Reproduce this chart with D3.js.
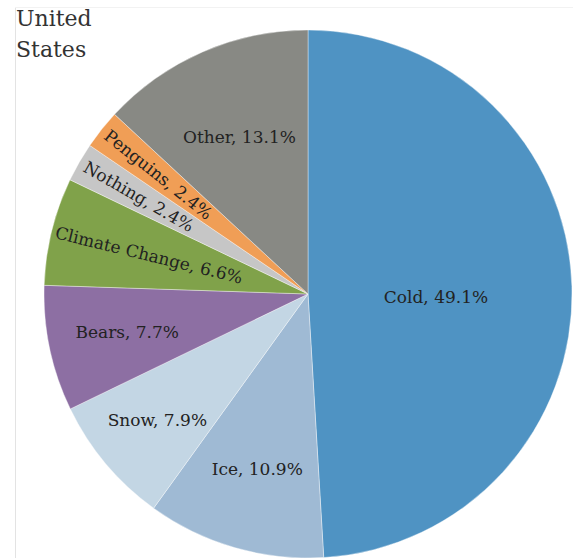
<!DOCTYPE html>
<html>
<head>
<meta charset="utf-8">
<script src="https://cdn.jsdelivr.net/npm/d3@7"></script>
<style>
  body { margin: 0; background: #fff; }
</style>
</head>
<body>
<div class="chart"></div>
<script>
// what americans think of when they hear "arctic"
const title = ["United", "States"]
const categories = ["Cold", "Ice", "Snow", "Bears", "Climate Change", "Nothing", "Penguins", "Other"]
const shares = [49.1, 10.9, 7.9, 7.7, 6.6, 2.4, 2.4, 13.1]
const colours = ["#4f93c3", "#9fbad4", "#c3d6e4", "#8d6fa3", "#80a24a", "#c6c6c6", "#f09e56", "#888984"]

const width = 573, height = 558
const cx = 308, cy = 294, radius = 264
const serif = "'DejaVu Serif', serif"

// label distance as a fraction of the radius; small slices get rotated text
const labelRadius = { "Cold": 0.485, "Ice": 0.69, "Snow": 0.745, "Bears": 0.70,
  "Climate Change": 0.62, "Nothing": 0.74, "Penguins": 0.725, "Other": 0.65 }
const labelNudge = { "Cold": 7 }
const rotated = ["Climate Change", "Nothing", "Penguins"]

const data = categories.map((c, i) => ({ name: c, value: shares[i], colour: colours[i] }))

const svg = d3.select(".chart").append("svg")
  .attr("width", width)
  .attr("height", height)

// faint frame lines
svg.append("line").attr("x1", 15.5).attr("x2", 15.5).attr("y1", 7).attr("y2", height)
  .attr("stroke", "#e3e3e3")
svg.append("line").attr("x1", 15).attr("x2", width).attr("y1", 7.5).attr("y2", 7.5)
  .attr("stroke", "#f2f2f2")

const pie = d3.pie().value(d => d.value).sort(null)
const arc = d3.arc().innerRadius(0).outerRadius(radius)
const arcs = pie(data)

const g = svg.append("g").attr("transform", `translate(${cx},${cy})`)

g.selectAll("path")
  .data(arcs)
  .enter()
  .append("path")
  .attr("d", arc)
  .attr("fill", d => d.data.colour)
  .attr("stroke", "#fff")
  .attr("stroke-opacity", 0.5)
  .attr("stroke-width", 0.75)

g.selectAll(".lbl")
  .data(arcs)
  .enter()
  .append("text")
  .attr("class", "lbl")
  .attr("text-anchor", "middle")
  .attr("dy", "0.35em")
  .style("font-family", serif)
  .style("font-size", "17px")
  .style("fill", "#222")
  .attr("transform", d => {
    const r = radius * labelRadius[d.data.name]
    const p = d3.arc().innerRadius(r).outerRadius(r).centroid(d)
    let rot = 0
    if (rotated.includes(d.data.name)) {
      const mid = (d.startAngle + d.endAngle) / 2 * 180 / Math.PI
      rot = mid - 270
    }
    return `translate(${p[0]},${p[1] + (labelNudge[d.data.name] || 0)}) rotate(${rot})`
  })
  .text(d => `${d.data.name}, ${d.data.value}%`)

svg.append("g").selectAll("text")
  .data(title)
  .enter()
  .append("text")
  .attr("x", 16)
  .attr("y", (d, i) => 26 + i * 31)
  .style("font-family", serif)
  .style("font-size", "22px")
  .style("fill", "#333")
  .text(d => d)
</script>
</body>
</html>
